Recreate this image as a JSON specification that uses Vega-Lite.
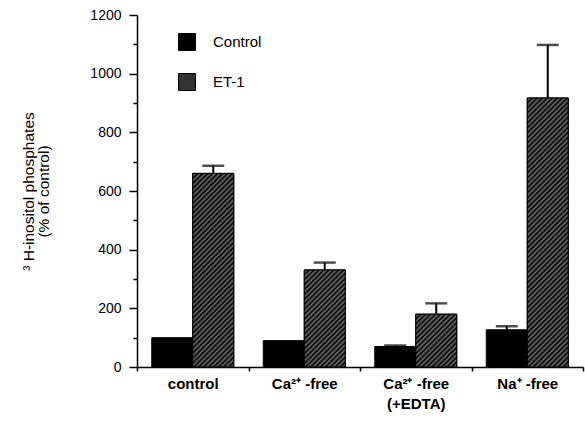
{
  "$schema": "https://vega.github.io/schema/vega-lite/v6.json",
  "autosize": "none",
  "width": 446,
  "height": 352,
  "padding": {"left": 137, "top": 15, "right": 2, "bottom": 59},
  "background": "white",
  "config": {
    "font": "Liberation Sans",
    "view": {"stroke": null},
    "axis": {"domainColor": "black", "tickColor": "black", "labelColor": "black", "titleColor": "black", "grid": false, "domainWidth": 1.5, "tickWidth": 1.5}
  },
  "data": {
    "values": [
      {"condition": "control", "group": "Control", "value": 100, "upper": 100},
      {"condition": "control", "group": "ET-1", "value": 660, "upper": 686},
      {"condition": "Ca²⁺ -free", "group": "Control", "value": 90, "upper": 90},
      {"condition": "Ca²⁺ -free", "group": "ET-1", "value": 331, "upper": 356},
      {"condition": "Ca²⁺ -free|(+EDTA)", "group": "Control", "value": 70, "upper": 73},
      {"condition": "Ca²⁺ -free|(+EDTA)", "group": "ET-1", "value": 180, "upper": 217},
      {"condition": "Na⁺ -free", "group": "Control", "value": 127, "upper": 139},
      {"condition": "Na⁺ -free", "group": "ET-1", "value": 917, "upper": 1098}
    ]
  },
  "encoding": {
    "x": {
      "field": "condition", "type": "nominal", "sort": null,
      "scale": {"domain": ["control", "Ca²⁺ -free", "Ca²⁺ -free|(+EDTA)", "Na⁺ -free"], "paddingInner": 0, "paddingOuter": 0},
      "axis": {"title": null, "labelAngle": 0, "labelExpr": "split(datum.label, '|')", "labelFontSize": 15, "labelFontWeight": "bold", "labelPadding": 5, "tickBand": "extent", "tickSize": 4, "labelLineHeight": 20, "labelBaseline": "top"}
    },
    "xOffset": {"field": "group", "type": "nominal", "sort": ["Control", "ET-1"], "scale": {"domain": ["Control", "ET-1"], "paddingInner": 0, "paddingOuter": 0.36}},
    "y": {
      "field": "value", "type": "quantitative",
      "scale": {"domain": [0, 1200], "nice": false},
      "axis": {
        "values": [0, 100, 200, 300, 400, 500, 600, 700, 800, 900, 1000, 1100, 1200],
        "labelExpr": "datum.value % 200 === 0 ? datum.label : ''",
        "format": "d",
        "tickSize": {"condition": {"test": "datum.value % 200 === 0", "value": 8}, "value": 4},
        "labelPadding": 8,
        "labelFontSize": 14,
        "title": ["³ H-inositol phosphates", "(% of control)"],
        "titleFontSize": 15.5,
        "titleFontWeight": "normal",
        "titleLineHeight": 15,
        "titlePadding": 38
      }
    }
  },
  "layer": [
    {
      "transform": [{"filter": "datum.upper > datum.value"}],
      "mark": {"type": "rule", "color": "black", "strokeWidth": 2},
      "encoding": {
        "y2": {"field": "upper"}
      }
    },
    {
      "transform": [{"filter": "datum.upper > datum.value"}],
      "mark": {"type": "tick", "color": "black", "size": 22, "thickness": 2.5},
      "encoding": {
        "y": {
          "field": "upper", "type": "quantitative",
          "scale": {"domain": [0, 1200], "nice": false},
          "axis": {
            "values": [0, 100, 200, 300, 400, 500, 600, 700, 800, 900, 1000, 1100, 1200],
            "labelExpr": "datum.value % 200 === 0 ? datum.label : ''",
            "format": "d",
            "tickSize": {"condition": {"test": "datum.value % 200 === 0", "value": 8}, "value": 4},
            "labelPadding": 8,
            "labelFontSize": 14,
            "title": ["³ H-inositol phosphates", "(% of control)"],
            "titleFontSize": 15.5,
            "titleFontWeight": "normal",
            "titleLineHeight": 15,
            "titlePadding": 38
          }
        }
      }
    },
    {
      "mark": {"type": "bar", "stroke": "black", "strokeWidth": 1},
      "encoding": {
        "color": {
          "field": "group", "type": "nominal", "sort": ["Control", "ET-1"],
          "scale": {"domain": ["Control", "ET-1"], "range": ["#000000", "#333333"]},
          "legend": {
            "title": null, "orient": "none", "legendX": 41, "legendY": 18,
            "symbolType": "square", "symbolSize": 289, "symbolStrokeColor": "black", "symbolStrokeWidth": 1,
            "labelFontSize": 15, "labelOffset": 17, "rowPadding": 18, "padding": 0, "labelColor": "black"
          }
        }
      }
    },
    {
      "transform": [{"filter": "datum.group === 'ET-1' && datum.condition === 'control'"}],
      "mark": {"type": "bar", "stroke": "black", "strokeWidth": 1, "fill": {"gradient": "linear", "x1": 0, "y1": 0, "x2": 0.2456, "y2": 1.1597, "stops": [
        {"offset": 0, "color": "#000"}, {"offset": 0.0106, "color": "#6e6e6e"}, {"offset": 0.0213, "color": "#000"}, {"offset": 0.0319, "color": "#6e6e6e"},
        {"offset": 0.0426, "color": "#000"}, {"offset": 0.0532, "color": "#6e6e6e"}, {"offset": 0.0638, "color": "#000"}, {"offset": 0.0745, "color": "#6e6e6e"},
        {"offset": 0.0851, "color": "#000"}, {"offset": 0.0957, "color": "#6e6e6e"}, {"offset": 0.1064, "color": "#000"}, {"offset": 0.1170, "color": "#6e6e6e"},
        {"offset": 0.1277, "color": "#000"}, {"offset": 0.1383, "color": "#6e6e6e"}, {"offset": 0.1489, "color": "#000"}, {"offset": 0.1596, "color": "#6e6e6e"},
        {"offset": 0.1702, "color": "#000"}, {"offset": 0.1809, "color": "#6e6e6e"}, {"offset": 0.1915, "color": "#000"}, {"offset": 0.2021, "color": "#6e6e6e"},
        {"offset": 0.2128, "color": "#000"}, {"offset": 0.2234, "color": "#6e6e6e"}, {"offset": 0.2340, "color": "#000"}, {"offset": 0.2447, "color": "#6e6e6e"},
        {"offset": 0.2553, "color": "#000"}, {"offset": 0.2660, "color": "#6e6e6e"}, {"offset": 0.2766, "color": "#000"}, {"offset": 0.2872, "color": "#6e6e6e"},
        {"offset": 0.2979, "color": "#000"}, {"offset": 0.3085, "color": "#6e6e6e"}, {"offset": 0.3191, "color": "#000"}, {"offset": 0.3298, "color": "#6e6e6e"},
        {"offset": 0.3404, "color": "#000"}, {"offset": 0.3511, "color": "#6e6e6e"}, {"offset": 0.3617, "color": "#000"}, {"offset": 0.3723, "color": "#6e6e6e"},
        {"offset": 0.3830, "color": "#000"}, {"offset": 0.3936, "color": "#6e6e6e"}, {"offset": 0.4043, "color": "#000"}, {"offset": 0.4149, "color": "#6e6e6e"},
        {"offset": 0.4255, "color": "#000"}, {"offset": 0.4362, "color": "#6e6e6e"}, {"offset": 0.4468, "color": "#000"}, {"offset": 0.4574, "color": "#6e6e6e"},
        {"offset": 0.4681, "color": "#000"}, {"offset": 0.4787, "color": "#6e6e6e"}, {"offset": 0.4894, "color": "#000"}, {"offset": 0.5, "color": "#6e6e6e"},
        {"offset": 0.5106, "color": "#000"}, {"offset": 0.5213, "color": "#6e6e6e"}, {"offset": 0.5319, "color": "#000"}, {"offset": 0.5426, "color": "#6e6e6e"},
        {"offset": 0.5532, "color": "#000"}, {"offset": 0.5638, "color": "#6e6e6e"}, {"offset": 0.5745, "color": "#000"}, {"offset": 0.5851, "color": "#6e6e6e"},
        {"offset": 0.5957, "color": "#000"}, {"offset": 0.6064, "color": "#6e6e6e"}, {"offset": 0.6170, "color": "#000"}, {"offset": 0.6277, "color": "#6e6e6e"},
        {"offset": 0.6383, "color": "#000"}, {"offset": 0.6489, "color": "#6e6e6e"}, {"offset": 0.6596, "color": "#000"}, {"offset": 0.6702, "color": "#6e6e6e"},
        {"offset": 0.6809, "color": "#000"}, {"offset": 0.6915, "color": "#6e6e6e"}, {"offset": 0.7021, "color": "#000"}, {"offset": 0.7128, "color": "#6e6e6e"},
        {"offset": 0.7234, "color": "#000"}, {"offset": 0.7340, "color": "#6e6e6e"}, {"offset": 0.7447, "color": "#000"}, {"offset": 0.7553, "color": "#6e6e6e"},
        {"offset": 0.7660, "color": "#000"}, {"offset": 0.7766, "color": "#6e6e6e"}, {"offset": 0.7872, "color": "#000"}, {"offset": 0.7979, "color": "#6e6e6e"},
        {"offset": 0.8085, "color": "#000"}, {"offset": 0.8191, "color": "#6e6e6e"}, {"offset": 0.8298, "color": "#000"}, {"offset": 0.8404, "color": "#6e6e6e"},
        {"offset": 0.8511, "color": "#000"}, {"offset": 0.8617, "color": "#6e6e6e"}, {"offset": 0.8723, "color": "#000"}, {"offset": 0.8830, "color": "#6e6e6e"},
        {"offset": 0.8936, "color": "#000"}, {"offset": 0.9043, "color": "#6e6e6e"}, {"offset": 0.9149, "color": "#000"}, {"offset": 0.9255, "color": "#6e6e6e"},
        {"offset": 0.9362, "color": "#000"}, {"offset": 0.9468, "color": "#6e6e6e"}, {"offset": 0.9574, "color": "#000"}, {"offset": 0.9681, "color": "#6e6e6e"},
        {"offset": 0.9787, "color": "#000"}, {"offset": 0.9894, "color": "#6e6e6e"}, {"offset": 1, "color": "#000"}
      ]}}
    },
    {
      "transform": [{"filter": "datum.group === 'ET-1' && datum.condition === 'Ca²⁺ -free'"}],
      "mark": {"type": "bar", "stroke": "black", "strokeWidth": 1, "fill": {"gradient": "linear", "x1": 0, "y1": 0, "x2": 0.5097, "y2": 1.2070, "stops": [
        {"offset": 0, "color": "#000"}, {"offset": 0.0179, "color": "#6e6e6e"}, {"offset": 0.0357, "color": "#000"}, {"offset": 0.0536, "color": "#6e6e6e"},
        {"offset": 0.0714, "color": "#000"}, {"offset": 0.0893, "color": "#6e6e6e"}, {"offset": 0.1071, "color": "#000"}, {"offset": 0.1250, "color": "#6e6e6e"},
        {"offset": 0.1429, "color": "#000"}, {"offset": 0.1607, "color": "#6e6e6e"}, {"offset": 0.1786, "color": "#000"}, {"offset": 0.1964, "color": "#6e6e6e"},
        {"offset": 0.2143, "color": "#000"}, {"offset": 0.2321, "color": "#6e6e6e"}, {"offset": 0.2500, "color": "#000"}, {"offset": 0.2679, "color": "#6e6e6e"},
        {"offset": 0.2857, "color": "#000"}, {"offset": 0.3036, "color": "#6e6e6e"}, {"offset": 0.3214, "color": "#000"}, {"offset": 0.3393, "color": "#6e6e6e"},
        {"offset": 0.3571, "color": "#000"}, {"offset": 0.3750, "color": "#6e6e6e"}, {"offset": 0.3929, "color": "#000"}, {"offset": 0.4107, "color": "#6e6e6e"},
        {"offset": 0.4286, "color": "#000"}, {"offset": 0.4464, "color": "#6e6e6e"}, {"offset": 0.4643, "color": "#000"}, {"offset": 0.4821, "color": "#6e6e6e"},
        {"offset": 0.5, "color": "#000"}, {"offset": 0.5179, "color": "#6e6e6e"}, {"offset": 0.5357, "color": "#000"}, {"offset": 0.5536, "color": "#6e6e6e"},
        {"offset": 0.5714, "color": "#000"}, {"offset": 0.5893, "color": "#6e6e6e"}, {"offset": 0.6071, "color": "#000"}, {"offset": 0.6250, "color": "#6e6e6e"},
        {"offset": 0.6429, "color": "#000"}, {"offset": 0.6607, "color": "#6e6e6e"}, {"offset": 0.6786, "color": "#000"}, {"offset": 0.6964, "color": "#6e6e6e"},
        {"offset": 0.7143, "color": "#000"}, {"offset": 0.7321, "color": "#6e6e6e"}, {"offset": 0.7500, "color": "#000"}, {"offset": 0.7679, "color": "#6e6e6e"},
        {"offset": 0.7857, "color": "#000"}, {"offset": 0.8036, "color": "#6e6e6e"}, {"offset": 0.8214, "color": "#000"}, {"offset": 0.8393, "color": "#6e6e6e"},
        {"offset": 0.8571, "color": "#000"}, {"offset": 0.8750, "color": "#6e6e6e"}, {"offset": 0.8929, "color": "#000"}, {"offset": 0.9107, "color": "#6e6e6e"},
        {"offset": 0.9286, "color": "#000"}, {"offset": 0.9464, "color": "#6e6e6e"}, {"offset": 0.9643, "color": "#000"}, {"offset": 0.9821, "color": "#6e6e6e"},
        {"offset": 1, "color": "#000"}
      ]}}
    },
    {
      "transform": [{"filter": "datum.group === 'ET-1' && datum.condition === 'Ca²⁺ -free|(+EDTA)'"}],
      "mark": {"type": "bar", "stroke": "black", "strokeWidth": 1, "fill": {"gradient": "linear", "x1": 0, "y1": 0, "x2": 0.8605, "y2": 1.1083, "stops": [
        {"offset": 0, "color": "#000"}, {"offset": 0.0263, "color": "#6e6e6e"}, {"offset": 0.0526, "color": "#000"}, {"offset": 0.0789, "color": "#6e6e6e"},
        {"offset": 0.1053, "color": "#000"}, {"offset": 0.1316, "color": "#6e6e6e"}, {"offset": 0.1579, "color": "#000"}, {"offset": 0.1842, "color": "#6e6e6e"},
        {"offset": 0.2105, "color": "#000"}, {"offset": 0.2368, "color": "#6e6e6e"}, {"offset": 0.2632, "color": "#000"}, {"offset": 0.2895, "color": "#6e6e6e"},
        {"offset": 0.3158, "color": "#000"}, {"offset": 0.3421, "color": "#6e6e6e"}, {"offset": 0.3684, "color": "#000"}, {"offset": 0.3947, "color": "#6e6e6e"},
        {"offset": 0.4211, "color": "#000"}, {"offset": 0.4474, "color": "#6e6e6e"}, {"offset": 0.4737, "color": "#000"}, {"offset": 0.5, "color": "#6e6e6e"},
        {"offset": 0.5263, "color": "#000"}, {"offset": 0.5526, "color": "#6e6e6e"}, {"offset": 0.5789, "color": "#000"}, {"offset": 0.6053, "color": "#6e6e6e"},
        {"offset": 0.6316, "color": "#000"}, {"offset": 0.6579, "color": "#6e6e6e"}, {"offset": 0.6842, "color": "#000"}, {"offset": 0.7105, "color": "#6e6e6e"},
        {"offset": 0.7368, "color": "#000"}, {"offset": 0.7632, "color": "#6e6e6e"}, {"offset": 0.7895, "color": "#000"}, {"offset": 0.8158, "color": "#6e6e6e"},
        {"offset": 0.8421, "color": "#000"}, {"offset": 0.8684, "color": "#6e6e6e"}, {"offset": 0.8947, "color": "#000"}, {"offset": 0.9211, "color": "#6e6e6e"},
        {"offset": 0.9474, "color": "#000"}, {"offset": 0.9737, "color": "#6e6e6e"}, {"offset": 1, "color": "#000"}
      ]}}
    },
    {
      "transform": [{"filter": "datum.group === 'ET-1' && datum.condition === 'Na⁺ -free'"}],
      "mark": {"type": "bar", "stroke": "black", "strokeWidth": 1, "fill": {"gradient": "linear", "x1": 0, "y1": 0, "x2": 0.1716, "y2": 1.1261, "stops": [
        {"offset": 0, "color": "#000"}, {"offset": 0.0081, "color": "#6e6e6e"}, {"offset": 0.0161, "color": "#000"}, {"offset": 0.0242, "color": "#6e6e6e"},
        {"offset": 0.0323, "color": "#000"}, {"offset": 0.0403, "color": "#6e6e6e"}, {"offset": 0.0484, "color": "#000"}, {"offset": 0.0565, "color": "#6e6e6e"},
        {"offset": 0.0645, "color": "#000"}, {"offset": 0.0726, "color": "#6e6e6e"}, {"offset": 0.0806, "color": "#000"}, {"offset": 0.0887, "color": "#6e6e6e"},
        {"offset": 0.0968, "color": "#000"}, {"offset": 0.1048, "color": "#6e6e6e"}, {"offset": 0.1129, "color": "#000"}, {"offset": 0.1210, "color": "#6e6e6e"},
        {"offset": 0.1290, "color": "#000"}, {"offset": 0.1371, "color": "#6e6e6e"}, {"offset": 0.1452, "color": "#000"}, {"offset": 0.1532, "color": "#6e6e6e"},
        {"offset": 0.1613, "color": "#000"}, {"offset": 0.1694, "color": "#6e6e6e"}, {"offset": 0.1774, "color": "#000"}, {"offset": 0.1855, "color": "#6e6e6e"},
        {"offset": 0.1935, "color": "#000"}, {"offset": 0.2016, "color": "#6e6e6e"}, {"offset": 0.2097, "color": "#000"}, {"offset": 0.2177, "color": "#6e6e6e"},
        {"offset": 0.2258, "color": "#000"}, {"offset": 0.2339, "color": "#6e6e6e"}, {"offset": 0.2419, "color": "#000"}, {"offset": 0.2500, "color": "#6e6e6e"},
        {"offset": 0.2581, "color": "#000"}, {"offset": 0.2661, "color": "#6e6e6e"}, {"offset": 0.2742, "color": "#000"}, {"offset": 0.2823, "color": "#6e6e6e"},
        {"offset": 0.2903, "color": "#000"}, {"offset": 0.2984, "color": "#6e6e6e"}, {"offset": 0.3065, "color": "#000"}, {"offset": 0.3145, "color": "#6e6e6e"},
        {"offset": 0.3226, "color": "#000"}, {"offset": 0.3306, "color": "#6e6e6e"}, {"offset": 0.3387, "color": "#000"}, {"offset": 0.3468, "color": "#6e6e6e"},
        {"offset": 0.3548, "color": "#000"}, {"offset": 0.3629, "color": "#6e6e6e"}, {"offset": 0.3710, "color": "#000"}, {"offset": 0.3790, "color": "#6e6e6e"},
        {"offset": 0.3871, "color": "#000"}, {"offset": 0.3952, "color": "#6e6e6e"}, {"offset": 0.4032, "color": "#000"}, {"offset": 0.4113, "color": "#6e6e6e"},
        {"offset": 0.4194, "color": "#000"}, {"offset": 0.4274, "color": "#6e6e6e"}, {"offset": 0.4355, "color": "#000"}, {"offset": 0.4435, "color": "#6e6e6e"},
        {"offset": 0.4516, "color": "#000"}, {"offset": 0.4597, "color": "#6e6e6e"}, {"offset": 0.4677, "color": "#000"}, {"offset": 0.4758, "color": "#6e6e6e"},
        {"offset": 0.4839, "color": "#000"}, {"offset": 0.4919, "color": "#6e6e6e"}, {"offset": 0.5, "color": "#000"}, {"offset": 0.5081, "color": "#6e6e6e"},
        {"offset": 0.5161, "color": "#000"}, {"offset": 0.5242, "color": "#6e6e6e"}, {"offset": 0.5323, "color": "#000"}, {"offset": 0.5403, "color": "#6e6e6e"},
        {"offset": 0.5484, "color": "#000"}, {"offset": 0.5565, "color": "#6e6e6e"}, {"offset": 0.5645, "color": "#000"}, {"offset": 0.5726, "color": "#6e6e6e"},
        {"offset": 0.5806, "color": "#000"}, {"offset": 0.5887, "color": "#6e6e6e"}, {"offset": 0.5968, "color": "#000"}, {"offset": 0.6048, "color": "#6e6e6e"},
        {"offset": 0.6129, "color": "#000"}, {"offset": 0.6210, "color": "#6e6e6e"}, {"offset": 0.6290, "color": "#000"}, {"offset": 0.6371, "color": "#6e6e6e"},
        {"offset": 0.6452, "color": "#000"}, {"offset": 0.6532, "color": "#6e6e6e"}, {"offset": 0.6613, "color": "#000"}, {"offset": 0.6694, "color": "#6e6e6e"},
        {"offset": 0.6774, "color": "#000"}, {"offset": 0.6855, "color": "#6e6e6e"}, {"offset": 0.6935, "color": "#000"}, {"offset": 0.7016, "color": "#6e6e6e"},
        {"offset": 0.7097, "color": "#000"}, {"offset": 0.7177, "color": "#6e6e6e"}, {"offset": 0.7258, "color": "#000"}, {"offset": 0.7339, "color": "#6e6e6e"},
        {"offset": 0.7419, "color": "#000"}, {"offset": 0.7500, "color": "#6e6e6e"}, {"offset": 0.7581, "color": "#000"}, {"offset": 0.7661, "color": "#6e6e6e"},
        {"offset": 0.7742, "color": "#000"}, {"offset": 0.7823, "color": "#6e6e6e"}, {"offset": 0.7903, "color": "#000"}, {"offset": 0.7984, "color": "#6e6e6e"},
        {"offset": 0.8065, "color": "#000"}, {"offset": 0.8145, "color": "#6e6e6e"}, {"offset": 0.8226, "color": "#000"}, {"offset": 0.8306, "color": "#6e6e6e"},
        {"offset": 0.8387, "color": "#000"}, {"offset": 0.8468, "color": "#6e6e6e"}, {"offset": 0.8548, "color": "#000"}, {"offset": 0.8629, "color": "#6e6e6e"},
        {"offset": 0.8710, "color": "#000"}, {"offset": 0.8790, "color": "#6e6e6e"}, {"offset": 0.8871, "color": "#000"}, {"offset": 0.8952, "color": "#6e6e6e"},
        {"offset": 0.9032, "color": "#000"}, {"offset": 0.9113, "color": "#6e6e6e"}, {"offset": 0.9194, "color": "#000"}, {"offset": 0.9274, "color": "#6e6e6e"},
        {"offset": 0.9355, "color": "#000"}, {"offset": 0.9435, "color": "#6e6e6e"}, {"offset": 0.9516, "color": "#000"}, {"offset": 0.9597, "color": "#6e6e6e"},
        {"offset": 0.9677, "color": "#000"}, {"offset": 0.9758, "color": "#6e6e6e"}, {"offset": 0.9839, "color": "#000"}, {"offset": 0.9919, "color": "#6e6e6e"},
        {"offset": 1, "color": "#000"}
      ]}}
    }
  ]
}
